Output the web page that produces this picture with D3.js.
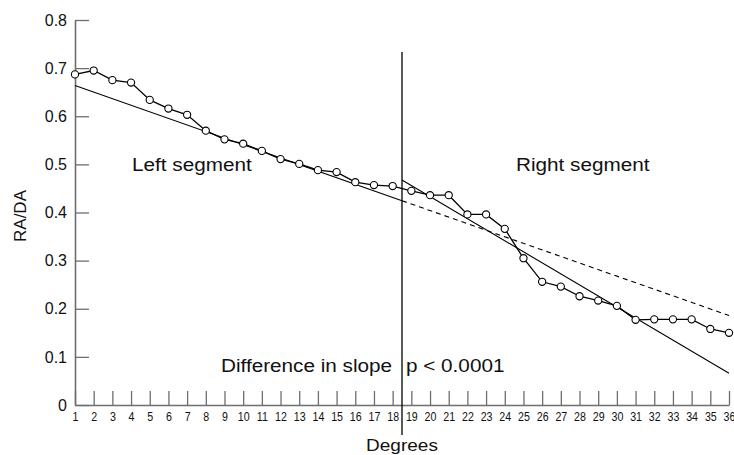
<!DOCTYPE html>
<html>
<head>
<meta charset="utf-8">
<script src="https://cdn.jsdelivr.net/npm/d3@7"></script>
<style>
  body { margin: 0; background: #fff; }
  text { font-family: "Liberation Sans", Arial, Helvetica, sans-serif; fill: #111; }
</style>
</head>
<body>
<div id="chart"></div>
<script>
// degrees (x categories) and RA/DA ratio
var degrees = [1,2,3,4,5,6,7,8,9,10,11,12,13,14,15,16,17,18,19,20,21,22,23,24,25,26,27,28,29,30,31,32,33,34,35,36];
var raDa = [0.687,0.695,0.675,0.670,0.634,0.616,0.603,0.570,0.552,0.543,0.528,0.511,0.501,0.488,0.484,0.463,0.457,0.455,
            0.445,0.436,0.436,0.396,0.396,0.366,0.305,0.256,0.246,0.226,0.217,0.206,0.177,0.178,0.178,0.178,0.158,0.150];
var yTicks = [0,0.1,0.2,0.3,0.4,0.5,0.6,0.7,0.8];

// regression lines (endpoints in data units)
var breakAt = 18.5;
var leftFitX = [1, 18.5],   leftFitY = [0.664, 0.4245];
var leftExtX = [18.5, 36],  leftExtY = [0.4245, 0.186];
var rightFitX = [18.5, 36], rightFitY = [0.4675, 0.066];

var width = 734, height = 455;
var axisCol = "#6e6e6e";

var svg = d3.select("#chart").append("svg")
    .attr("width", width)
    .attr("height", height);

var x = d3.scaleLinear().domain([1, 36]).range([75, 729]);
var y = d3.scaleLinear().domain([0, 0.8]).range([405, 20]);

// axes
var gx = svg.append("g")
    .attr("transform", "translate(0," + y(0) + ")")
    .call(d3.axisBottom(x).tickValues(degrees).tickFormat(d3.format("d")).tickSize(-14).tickSizeOuter(0).tickPadding(7));
gx.selectAll("text")
    .style("font-size", "13px")
    .attr("transform", "scale(0.82,1)");

var gy = svg.append("g")
    .attr("transform", "translate(" + x(1) + ",0)")
    .call(d3.axisLeft(y).tickValues(yTicks).tickFormat(function(d) { return d === 0 ? "0" : d3.format(".1f")(d); })
      .tickSize(-14).tickSizeOuter(0).tickPadding(8));
gy.selectAll("text")
    .style("font-size", "16px");

svg.selectAll(".domain").attr("stroke", axisCol).attr("stroke-width", 1.6);
svg.selectAll(".tick line").attr("stroke", axisCol).attr("stroke-width", 1.3);

// axis titles
svg.append("text")
    .attr("transform", "translate(" + x(breakAt) + ",451) scale(1.12,1)")
    .attr("text-anchor", "middle")
    .style("font-size", "17px")
    .text("Degrees");

svg.append("text")
    .attr("transform", "translate(26,216) rotate(-90)")
    .attr("text-anchor", "middle")
    .style("font-size", "17px")
    .text("RA/DA");

// vertical break line
svg.append("line")
    .attr("x1", x(breakAt)).attr("x2", x(breakAt))
    .attr("y1", 52).attr("y2", 435)
    .attr("stroke", "#000").attr("stroke-width", 1.3);

// fitted lines
var fit = d3.line().x(function(d) { return x(d[0]); }).y(function(d) { return y(d[1]); });
svg.append("path")
    .attr("d", fit(d3.zip(leftFitX, leftFitY)))
    .attr("fill", "none").attr("stroke", "#000").attr("stroke-width", 1.1);
svg.append("path")
    .attr("d", fit(d3.zip(leftExtX, leftExtY)))
    .attr("fill", "none").attr("stroke", "#000").attr("stroke-width", 1.1)
    .attr("stroke-dasharray", "5,4");
svg.append("path")
    .attr("d", fit(d3.zip(rightFitX, rightFitY)))
    .attr("fill", "none").attr("stroke", "#000").attr("stroke-width", 1.1);

// data line + markers
var pts = d3.zip(degrees, raDa);
svg.append("path")
    .attr("d", fit(pts))
    .attr("fill", "none").attr("stroke", "#000").attr("stroke-width", 1.3);
svg.selectAll(".pt")
    .data(pts)
  .enter().append("circle")
    .attr("class", "pt")
    .attr("cx", function(d) { return x(d[0]); })
    .attr("cy", function(d) { return y(d[1]); })
    .attr("r", 3.6)
    .attr("fill", "#fff")
    .attr("stroke", "#000")
    .attr("stroke-width", 1.1);

// annotations
function label(tx, ty, s) {
  svg.append("text")
    .attr("transform", "translate(" + tx + "," + ty + ") scale(1.12,1)")
    .style("font-size", "18.5px")
    .text(s);
}
label(132, 171, "Left segment");
label(516, 171, "Right segment");
label(221, 372, "Difference in slope");
label(406, 372, "p < 0.0001");
</script>
</body>
</html>
